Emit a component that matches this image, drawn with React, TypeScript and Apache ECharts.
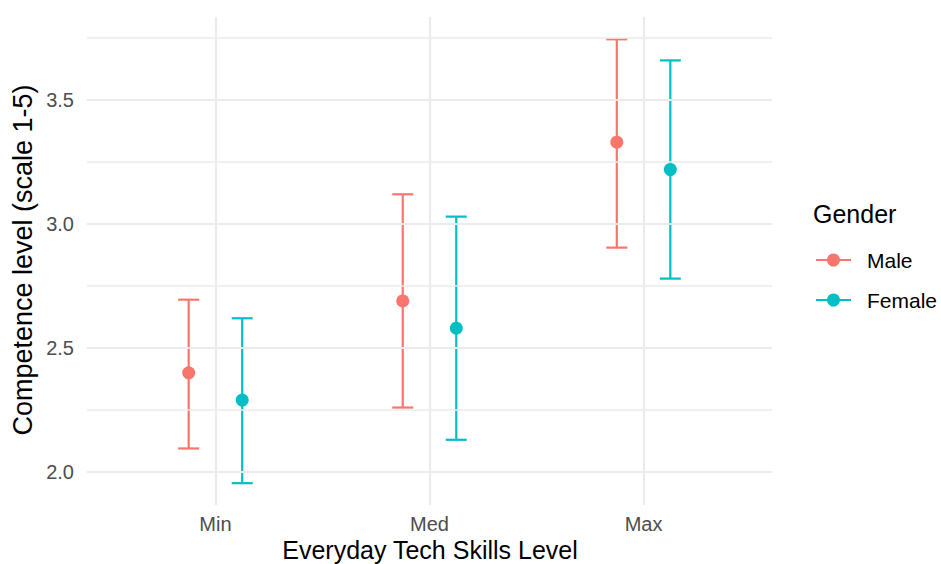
import React, { useEffect, useRef } from "react";
import * as echarts from "echarts";

const categories = ["Min", "Med", "Max"];
const genders = ["Male", "Female"];
const colors = ["#F8766D", "#00BFC4"];
const maleMean = [2.40, 2.69, 3.33];
const maleLow = [2.095, 2.26, 2.905];
const maleHigh = [2.695, 3.12, 3.745];
const femaleMean = [2.29, 2.58, 3.22];
const femaleLow = [1.955, 2.13, 2.78];
const femaleHigh = [2.62, 3.03, 3.66];
const yTicks = [2.0, 2.5, 3.0, 3.5];
const yMinor = [2.25, 2.75, 3.25, 3.75];
const dodge = 0.125;

const FONT = "'Liberation Sans', Arial, Helvetica, sans-serif";

export default function App() {
  const ref = useRef<HTMLDivElement>(null);
  useEffect(() => {
    if (!ref.current) return;
    const chart = echarts.init(ref.current, undefined, { renderer: "svg" });
    const groups = [
      { mean: maleMean, low: maleLow, high: maleHigh, off: -dodge },
      { mean: femaleMean, low: femaleLow, high: femaleHigh, off: dodge },
    ];
    const series: any[] = [];
    series.push({
      type: "scatter",
      data: [[0.4, 1.9]],
      symbolSize: 0,
      silent: true,
      z: 0,
      markLine: {
        silent: true,
        symbol: "none",
        label: { show: false },
        animation: false,
        data: [
          ...yMinor.map((v) => ({ yAxis: v, lineStyle: { color: "#ebebeb", width: 1.5, type: "solid" } })),
          ...yTicks.map((v) => ({ yAxis: v, lineStyle: { color: "#ebebeb", width: 2.2, type: "solid" } })),
          ...categories.map((_, i) => ({ xAxis: i + 1, lineStyle: { color: "#ebebeb", width: 2.2, type: "solid" } })),
        ],
      },
    });
    groups.forEach((g, gi) => {
      series.push({
        type: "custom",
        name: genders[gi] + " CI",
        z: 2,
        data: categories.map((_, i) => [i + 1 + g.off, g.low[i], g.high[i]]),
        renderItem: (params: any, api: any) => {
          const x = api.value(0);
          const lo = api.coord([x, api.value(1)]);
          const hi = api.coord([x, api.value(2)]);
          const hw = 10.5;
          const style = { stroke: colors[gi], lineWidth: 2.2, fill: "none" };
          return {
            type: "group",
            children: [
              { type: "line", shape: { x1: lo[0], y1: lo[1], x2: hi[0], y2: hi[1] }, style },
              { type: "line", shape: { x1: hi[0] - hw, y1: hi[1], x2: hi[0] + hw, y2: hi[1] }, style },
              { type: "line", shape: { x1: lo[0] - hw, y1: lo[1], x2: lo[0] + hw, y2: lo[1] }, style },
            ],
          };
        },
      });
      series.push({
        type: "scatter",
        name: genders[gi],
        z: 3,
        symbol: "circle",
        symbolSize: 13,
        itemStyle: { color: colors[gi], opacity: 1 },
        data: categories.map((_, i) => [i + 1 + g.off, g.mean[i]]),
      });
    });

    const legendY = [260, 300];
    const legendEls: any[] = [
      {
        type: "text",
        x: 813,
        y: 214,
        style: { text: "Gender", font: `25px ${FONT}`, fill: "#000", verticalAlign: "middle" },
      },
    ];
    genders.forEach((g, i) => {
      legendEls.push({
        type: "line",
        shape: { x1: 816, y1: legendY[i], x2: 851, y2: legendY[i] },
        style: { stroke: colors[i], lineWidth: 2.2 },
      });
      legendEls.push({
        type: "circle",
        shape: { cx: 833.5, cy: legendY[i], r: 6.5 },
        style: { fill: colors[i] },
      });
      legendEls.push({
        type: "text",
        x: 867,
        y: legendY[i],
        style: { text: g, font: `21px ${FONT}`, fill: "#000", verticalAlign: "middle" },
      });
    });

    chart.setOption({
      animation: false,
      backgroundColor: "#fff",
      grid: { left: 87, right: 169, top: 17, bottom: 59 },
      xAxis: {
        type: "value",
        min: 0.4,
        max: 3.6,
        axisLine: { show: false },
        axisTick: { show: false },
        splitLine: { show: false },
        axisLabel: {
          customValues: [1, 2, 3],
          formatter: (v: number) => categories[Math.round(v) - 1] ?? "",
          color: "#4d4d4d",
          fontSize: 20,
          fontFamily: FONT,
          margin: 9,
        },
      },
      yAxis: {
        type: "value",
        min: 1.867,
        max: 3.835,
        axisLine: { show: false },
        axisTick: { show: false },
        splitLine: { show: false },
        axisLabel: {
          customValues: yTicks,
          formatter: (v: number) => v.toFixed(1),
          color: "#4d4d4d",
          fontSize: 20,
          fontFamily: FONT,
          margin: 13,
        },
      },
      graphic: [
        {
          type: "text",
          x: 430,
          y: 550,
          style: {
            text: "Everyday Tech Skills Level",
            font: `25px ${FONT}`,
            fill: "#000",
            align: "center",
            verticalAlign: "middle",
          },
        },
        {
          type: "text",
          x: 23,
          y: 260,
          rotation: Math.PI / 2,
          style: {
            text: "Competence level (scale 1-5)",
            font: `27px ${FONT}`,
            fill: "#000",
            align: "center",
            verticalAlign: "middle",
          },
        },
        ...legendEls,
      ],
      series,
    });
    return () => chart.dispose();
  }, []);
  return <div ref={ref} style={{ width: 941, height: 564, position: "absolute", left: 0, top: 0 }} />;
}
